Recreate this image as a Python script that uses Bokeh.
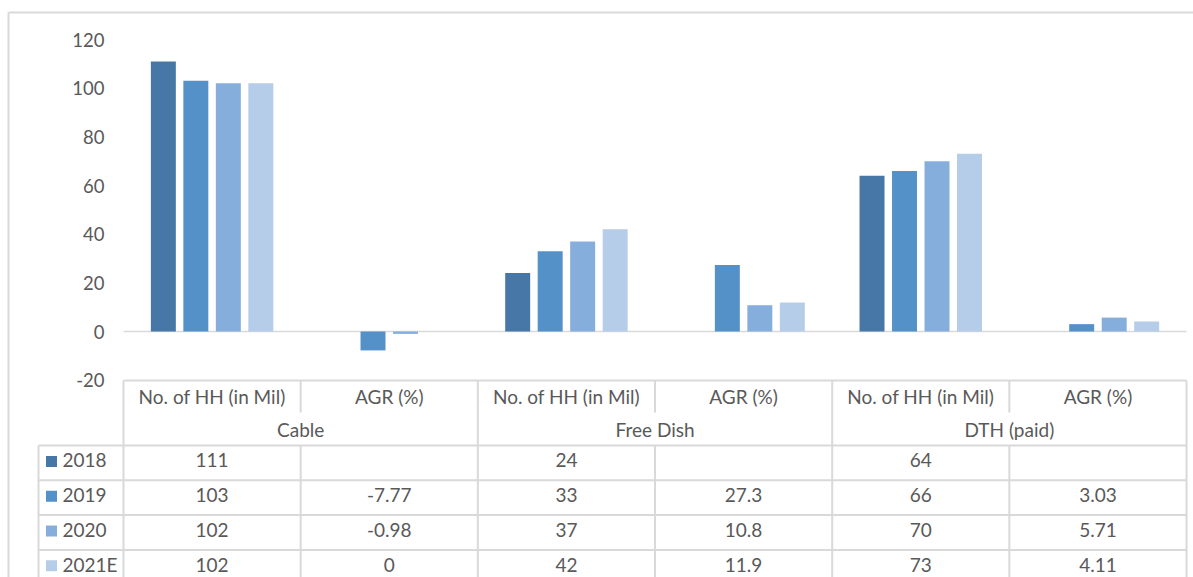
from bokeh.plotting import figure
from bokeh.models import Range1d, ColumnDataSource
from bokeh.core.properties import value
from bokeh.embed import file_html
from bokeh.resources import INLINE

# ---------------- data ----------------
groups = ["Cable", "Free Dish", "DTH (paid)"]
metrics = ["No. of HH (in Mil)", "AGR (%)"]
years = ["2018", "2019", "2020", "2021E"]
colors = ["#4677A6", "#5591C9", "#86AEDC", "#B6CDE9"]

# values per year, in column order: Cable HH, Cable AGR, Free Dish HH, Free Dish AGR, DTH HH, DTH AGR
v2018 = [111, None, 24, None, 64, None]
v2019 = [103, -7.77, 33, 27.3, 66, 3.03]
v2020 = [102, -0.98, 37, 10.8, 70, 5.71]
v2021 = [102, 0, 42, 11.9, 73, 4.11]
series = [v2018, v2019, v2020, v2021]

y_ticks = [-20, 0, 20, 40, 60, 80, 100, 120]

# ---------------- layout helpers (pixel -> data) ----------------
W, H = 1193, 577
COL_PX = 177.17
X0_PX = 123.0
PX_PER_UNIT = 2.4333
ZERO_PY = 331.0


def X(px):
    return (px - X0_PX) / COL_PX


def Y(py):
    return (ZERO_PY - py) / PX_PER_UNIT


FONT = value("Lato")
FS = "19px"
TXT = "#595959"
GRID = "#D9D9D9"

p = figure(width=W, height=H, output_backend="svg", toolbar_location=None,
           x_range=Range1d(X(0), X(W)), y_range=Range1d(Y(H), Y(0)),
           min_border=0)
p.axis.visible = False
p.grid.visible = False
p.outline_line_color = None
p.background_fill_color = "white"
p.border_fill_color = "white"

ncols = len(groups) * len(metrics)

# outer chart border (top/left)
p.segment(x0=[X(8), X(8)], y0=[Y(12), Y(12)], x1=[X(W + 5), X(8)], y1=[Y(12), Y(H + 5)],
          line_color=GRID, line_width=2)

# zero line
p.segment(x0=[0], y0=[0], x1=[ncols], y1=[0], line_color=GRID, line_width=1.5)

# bars
step = 0.1834
bw = 0.141
for j, (yr, vals, c) in enumerate(zip(years, series, colors)):
    xs, tops = [], []
    for ci, v in enumerate(vals):
        if v is None:
            continue
        xs.append(ci + 0.5 + (j - 1.5) * step)
        tops.append(v)
    src = ColumnDataSource(dict(x=xs, top=tops))
    p.vbar(x="x", top="top", bottom=0, width=bw, source=src, fill_color=c, line_color=None)

# y tick labels
p.text(x=[X(104)] * len(y_ticks), y=y_ticks, text=[str(t) for t in y_ticks],
       text_align="right", text_baseline="middle", text_font=FONT, text_font_size="18.5px",
       text_color=TXT)

# ---------------- data table ----------------
row_top = 445
row_h = 34.8
header_top = 380
header_mid = 413
nrows = len(years)
bottom_py = H + 5

hx0, hy0, hx1, hy1 = [], [], [], []
# horizontal lines
hx0 += [0]; hy0 += [Y(header_top)]; hx1 += [ncols]; hy1 += [Y(header_top)]
for r in range(nrows):
    py = row_top + r * row_h
    hx0 += [X(38)]; hy0 += [Y(py)]; hx1 += [ncols]; hy1 += [Y(py)]
# vertical lines: group boundaries full height
for ci in range(0, ncols + 1, 2):
    hx0 += [ci]; hy0 += [Y(header_top)]; hx1 += [ci]; hy1 += [Y(bottom_py)]
# metric separators: header part and data part
for ci in range(1, ncols, 2):
    hx0 += [ci, ci]; hy0 += [Y(header_top), Y(row_top)]
    hx1 += [ci, ci]; hy1 += [Y(header_mid - 1), Y(bottom_py)]
# legend column left edge
hx0 += [X(38)]; hy0 += [Y(row_top)]; hx1 += [X(38)]; hy1 += [Y(bottom_py)]
p.segment(x0=hx0, y0=hy0, x1=hx1, y1=hy1, line_color=GRID, line_width=2)

# header texts
mx = [ci + 0.5 for ci in range(ncols)]
mt = [metrics[ci % 2] for ci in range(ncols)]
p.text(x=mx, y=[Y(396)] * ncols, text=mt, text_align="center", text_baseline="middle",
       text_font=FONT, text_font_size=FS, text_color=TXT)
gx = [2 * gi + 1 for gi in range(len(groups))]
p.text(x=gx, y=[Y(429)] * len(groups), text=groups, text_align="center", text_baseline="middle",
       text_font=FONT, text_font_size=FS, text_color=TXT)

# rows
for r, (yr, vals, c) in enumerate(zip(years, series, colors)):
    cy = Y(row_top + r * row_h + row_h / 2 - 2.5)
    p.scatter(x=[X(51)], y=[Y(row_top + r * row_h + row_h / 2 - 1.5)], marker="square", size=11,
              fill_color=c, line_color=None)
    p.text(x=[X(62)], y=[cy], text=[yr], text_align="left", text_baseline="middle",
           text_font=FONT, text_font_size=FS, text_color=TXT)
    cx, ct = [], []
    for ci, v in enumerate(vals):
        if v is None:
            continue
        cx.append(ci + 0.5)
        ct.append(f"{v:g}")
    p.text(x=cx, y=[cy] * len(cx), text=ct, text_align="center", text_baseline="middle",
           text_font=FONT, text_font_size=FS, text_color=TXT)

open("out.html", "w").write(file_html(p, INLINE))
